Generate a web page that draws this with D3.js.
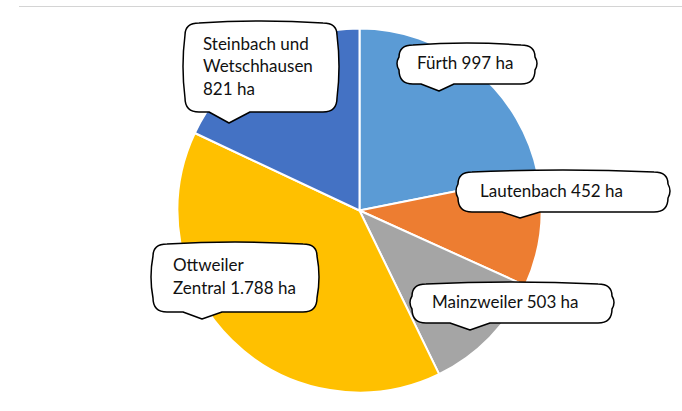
<!DOCTYPE html>
<html>
<head>
<meta charset="utf-8">
<script src="https://cdn.jsdelivr.net/npm/d3@7"></script>
<style>
  body { margin: 0; background: #fff; }
  svg { display: block; }
  .label text { font-family: Lato, "Open Sans", sans-serif; font-size: 17px; fill: #111; }
</style>
</head>
<body>
<div id="chart"></div>
<script>
// Daten
const gemarkungen = ['Fürth', 'Lautenbach', 'Mainzweiler', 'Ottweiler Zentral', 'Steinbach und Wetschhausen'];
const flaechen = [997, 452, 503, 1788, 821];
const farben = ['#5B9BD5', '#ED7D31', '#A5A5A5', '#FFC000', '#4472C4'];
// Zeilenumbruch der Beschriftungen
const zeilen = [
  ['Fürth {v} ha'],
  ['Lautenbach {v} ha'],
  ['Mainzweiler {v} ha'],
  ['Ottweiler', 'Zentral {v} ha'],
  ['Steinbach und', 'Wetschhausen', '{v} ha']
];

// Layout
const [width, height] = [682, 411];
const center = [359.5, 210.5];
const radius = 182;
// Sprechblasen: Rechteck, Spitze, Breite des Ansatzes, Textabstand links
const blasen = [
  { x0: 399, y0: 43, x1: 535, y1: 84, tip: [439, 91], base: [421, 454], pad: 18 },
  { x0: 458, y0: 170, x1: 668, y1: 212, tip: [520, 218], base: [502, 540], pad: 22 },
  { x0: 412, y0: 282, x1: 612, y1: 323, tip: [470, 330], base: [450, 490], pad: 20 },
  { x0: 153, y0: 242, x1: 317, y1: 312, tip: [202, 319], base: [183, 222], pad: 20 },
  { x0: 185, y0: 21, x1: 337, y1: 112, tip: [229, 123], base: [209, 250], pad: 18 }
];

const de = d3.formatLocale({ decimal: ',', thousands: '.', grouping: [3], currency: ['', ' €'] });
const fmt = de.format(',d');

const svg = d3.select('#chart')
  .append('svg')
  .attr('width', width)
  .attr('height', height);

// dünne Linie oben
svg.append('line')
  .attr('x1', 19).attr('x2', width)
  .attr('y1', 6.5).attr('y2', 6.5)
  .attr('stroke', '#d4d4d4')
  .attr('stroke-width', 1);

const pie = d3.pie().sort(null).value((d) => d);
const arc = d3.arc().innerRadius(0).outerRadius(radius);

svg.append('g')
  .attr('transform', `translate(${center[0]},${center[1]})`)
  .selectAll('path')
  .data(pie(flaechen))
  .enter()
  .append('path')
  .attr('d', arc)
  .attr('fill', (d, i) => farben[i])
  .attr('stroke', '#fff')
  .attr('stroke-width', 2)
  .attr('stroke-linejoin', 'round');

const bubblePath = (b) => {
  const r = 14, k = 2;
  const mx = (b.x0 + b.x1) / 2, my = (b.y0 + b.y1) / 2;
  const p = d3.path();
  p.moveTo(b.x0 + r, b.y0 + k);
  p.quadraticCurveTo(mx, b.y0 - k, b.x1 - r, b.y0 + k);
  p.quadraticCurveTo(b.x1, b.y0 + k, b.x1, b.y0 + r);
  p.quadraticCurveTo(b.x1 + 2 * k, my, b.x1, b.y1 - r);
  p.quadraticCurveTo(b.x1, b.y1, b.x1 - r, b.y1);
  p.lineTo(b.base[1], b.y1);
  p.lineTo(b.tip[0], b.tip[1]);
  p.lineTo(b.base[0], b.y1);
  p.lineTo(b.x0 + r, b.y1);
  p.quadraticCurveTo(b.x0, b.y1, b.x0, b.y1 - r);
  p.quadraticCurveTo(b.x0 - 2 * k, my, b.x0, b.y0 + r);
  p.quadraticCurveTo(b.x0, b.y0 + k, b.x0 + r, b.y0 + k);
  p.closePath();
  return p.toString();
};

const labels = svg.selectAll('g.label')
  .data(gemarkungen)
  .enter()
  .append('g')
  .attr('class', 'label');

labels.append('path')
  .attr('d', (d, i) => bubblePath(blasen[i]))
  .attr('fill', '#fff')
  .attr('stroke', '#000')
  .attr('stroke-width', 1.5)
  .attr('stroke-linejoin', 'round');

labels.each(function (d, i) {
  const b = blasen[i];
  const lines = zeilen[i].map((z) => z.replace('{v}', fmt(flaechen[i])));
  const lh = 22.5;
  const startY = (b.y0 + b.y1) / 2 - (lines.length - 1) * lh / 2 + 5.5;
  const t = d3.select(this).append('text');
  lines.forEach((l, j) => {
    t.append('tspan')
      .attr('x', b.x0 + b.pad)
      .attr('y', startY + j * lh)
      .text(l);
  });
});
</script>
</body>
</html>
